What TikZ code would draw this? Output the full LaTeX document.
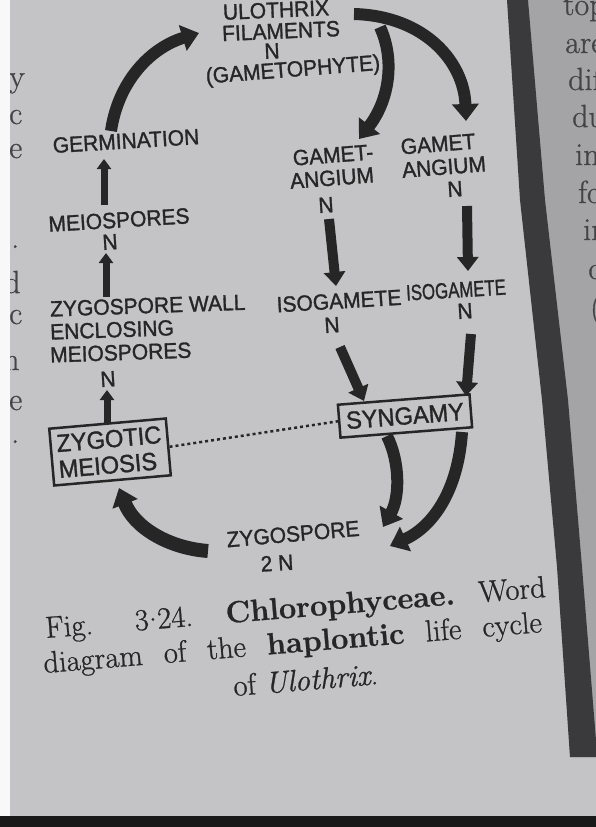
\documentclass[tikz,border=0pt]{standalone}
\usepackage{fontspec}
\usepackage{graphicx}
\newfontfamily\lab{Liberation Sans}[FakeBold=1.4]
\newfontfamily\capfont{Latin Modern Roman}[FakeBold=0.8]
\usetikzlibrary{arrows.meta}
\definecolor{page}{HTML}{C4C4C7}
\definecolor{rpage}{HTML}{A4A4A7}
\definecolor{gutter}{HTML}{3A3A3C}
\definecolor{ink}{HTML}{262626}
\definecolor{fadeink}{HTML}{444446}
\newcommand\tall[1]{\scalebox{1.05}[1.1]{#1}}
\newcommand\narrowtall[1]{\scalebox{0.84}[1.1]{#1}}
\tikzset{
  basetxt/.style={font=\lab\fontsize{20}{22}\selectfont, text=ink, inner sep=0pt},
  lbl/.style={basetxt, rotate=3.5},
  leftlbl/.style={basetxt, rotate=2, anchor=west},
  bigarrow/.style={draw=ink, line width=12pt, -{Triangle[length=17pt,width=26pt]}},
  midarrow/.style={draw=ink, line width=10pt, -{Triangle[length=14pt,width=21pt]}},
  uparrow/.style={draw=ink, line width=7pt, -{Triangle[length=10pt,width=14pt]}},
  boxlbl/.style={draw=ink, line width=2.5pt, font=\lab\fontsize{22.5}{26}\selectfont, text=ink},
  frag/.style={font=\capfont\fontsize{32}{34}\selectfont, text=fadeink, inner sep=0pt, anchor=base west},
  captxt/.style={font=\capfont\fontsize{30.5}{33}\selectfont, text=ink, inner sep=0pt, anchor=base west, rotate=4.7}
}
\begin{document}
\begin{tikzpicture}[x=1pt,y=-1pt]
\useasboundingbox (0,0) rectangle (596,827);
\begin{scope}
\clip (0,0) rectangle (596,827);
% page background
\fill[page] (0,0) rectangle (596,827);
% right page and gutter
\fill[rpage] (528,0) -- (596,0) -- (596,757) -- (570,757) -- cycle;
\fill[gutter] (507,0) -- (528,0) -- (545,200) -- (568,400) -- (582,567) -- (596,740) -- (596,757)
  -- (570,757) -- (557,567) -- (542,400) -- (520,200) -- cycle;
\fill[black!90] (0,816) rectangle (596,827);
% fragments of the neighbouring pages
\node[frag] (r1) at (563,15) {top};
\node[frag] (r2) at (565,53) {are};
\node[frag] (r3) at (568,90) {dif};
\node[frag] (r4) at (572,127) {du};
\node[frag] (r5) at (575,165) {in};
\node[frag] (r6) at (578,203) {fo};
\node[frag] (r7) at (583,240) {in};
\node[frag] (r8) at (588,279) {d};
\node[frag] (r9) at (590,318) {(};
\node[frag] (l1) at (9,87) {y};
\node[frag] (l2) at (9,124) {c};
\node[frag] (l3) at (9,158) {e};
\node[frag] (l4) at (11,248) {.};
\node[frag] (l5) at (4,293) {d};
\node[frag] (l6) at (9,324) {c};
\node[frag] (l7) at (3,370) {n};
\node[frag] (l8) at (9,410) {e};
\node[frag] (l9) at (11,443) {.};
\fill[white!88!page] (0,0) rectangle (10,816);
\end{scope}

% ---- labels ----
\node[basetxt, rotate=2.5] (ulo1) at (276,10) {\tall{ULOTHRIX}};
\node[basetxt, rotate=2.5] (ulo2) at (281,31) {\tall{FILAMENTS}};
\node[basetxt, rotate=2.5] (uloN) at (272,51) {\tall{N}};
\node[basetxt, rotate=4.5] (ulo3) at (293,71) {\tall{(GAMETOPHYTE)}};

\node[lbl] (germ) at (126,141) {\tall{GERMINATION}};
\node[lbl] (meio) at (119,220) {\tall{MEIOSPORES}};
\node[lbl] (meioN) at (110,242) {\tall{N}};
\node[leftlbl] (zw1) at (50,309) {\tall{ZYGOSPORE WALL}};
\node[leftlbl] (zw2) at (50,332) {\tall{ENCLOSING}};
\node[leftlbl] (zw3) at (50,355) {\tall{MEIOSPORES}};
\node[lbl] (zwN) at (108,379) {\tall{N}};

\node[basetxt, rotate=4.5] (ga1) at (333,155) {\tall{GAMET-}};
\node[basetxt, rotate=4.5] (ga2) at (332,178) {\tall{ANGIUM}};
\node[lbl] (gaN) at (326,205) {\tall{N}};
\node[basetxt, rotate=4.5] (gb1) at (438,144) {\tall{GAMET}};
\node[basetxt, rotate=4.5] (gb2) at (444,167) {\tall{ANGIUM}};
\node[lbl] (gbN) at (455,189) {\tall{N}};

\node[lbl] (isoA) at (339,301) {\tall{ISOGAMETE}};
\node[lbl] (isoAN) at (332,325) {\tall{N}};
\node[lbl] (isoB) at (456,290) {\narrowtall{ISOGAMETE}};
\node[lbl] (isoBN) at (465,311) {\tall{N}};

\node[boxlbl, rotate=5, align=left, minimum width=117pt, minimum height=57pt, inner sep=4pt] (zm) at (110,452) {\tall{ZYGOTIC}\\\tall{MEIOSIS}};
\node[boxlbl, rotate=4.5, minimum width=132pt, minimum height=33pt, inner sep=3pt] (syn) at (405,416) {\tall{SYNGAMY}};

\node[basetxt, rotate=5] (zyg) at (293,534) {\tall{ZYGOSPORE}};
\node[lbl] (zygN) at (277,563) {\tall{2 N}};

% ---- connectors ----
\coordinate (a1s) at (111,131);
\coordinate (a1e) at (199,33);
\draw[bigarrow] (a1s) .. controls (118,82) and (150,48) .. (a1e);
\coordinate (a2s) at (354,14);
\coordinate (a2e) at (466,121);
\draw[bigarrow] (a2s) .. controls (425,16) and (464,62) .. (a2e);
\coordinate (a3s) at (380,27);
\coordinate (a3e) at (359,139);
\draw[bigarrow] (a3s) .. controls (396,62) and (388,102) .. (a3e);

\coordinate (g1s) at (329,219);
\coordinate (g1e) at (336,286);
\draw[midarrow] (g1s) -- (g1e);
\coordinate (g2s) at (467,206);
\coordinate (g2e) at (468,271);
\draw[midarrow] (g2s) -- (g2e);
\coordinate (i1s) at (340,347);
\coordinate (i1e) at (364,401);
\draw[midarrow] (i1s) -- (i1e);
\coordinate (i2s) at (471,334);
\coordinate (i2e) at (466,396);
\draw[midarrow] (i2s) -- (i2e);

\coordinate (u1s) at (104,205);
\coordinate (u1e) at (104,159);
\draw[uparrow] (u1s) -- (u1e);
\coordinate (u2s) at (106,297);
\coordinate (u2e) at (106,253);
\draw[uparrow] (u2s) -- (u2e);
\coordinate (u3s) at (107,424);
\coordinate (u3e) at (107,390);
\draw[uparrow] (u3s) -- (u3e);

\draw[ink, line width=2.5pt, dash pattern=on 3pt off 3pt] (zm.east) -- (syn.west);

\coordinate (s1s) at (387,436);
\coordinate (s1e) at (383,527);
\draw[bigarrow] (s1s) .. controls (400,462) and (400,497) .. (s1e);
\coordinate (s2s) at (462,432);
\coordinate (s2e) at (390,546);
\draw[bigarrow] (s2s) .. controls (458,492) and (432,527) .. (s2e);
\coordinate (z1s) at (208,551);
\coordinate (z1e) at (119,488);
\draw[bigarrow, line width=14pt] (z1s) .. controls (168,548) and (134,527) .. (z1e);

% ---- caption ----
\node[captxt] (c1) at (46,638) {Fig.\hspace{42pt}3\kern0.5pt\raisebox{0.28em}{.}\kern0.5pt24.\hspace{33pt}\textbf{Chlorophyceae.}\hspace{24pt}Word};
\node[captxt] (c2) at (44,673) {\makebox[500pt][s]{diagram of the \textbf{haplontic} life cycle}};
\node[captxt] (c3) at (234,696) {of \textit{Ulothrix}.};
\end{tikzpicture}
\end{document}
